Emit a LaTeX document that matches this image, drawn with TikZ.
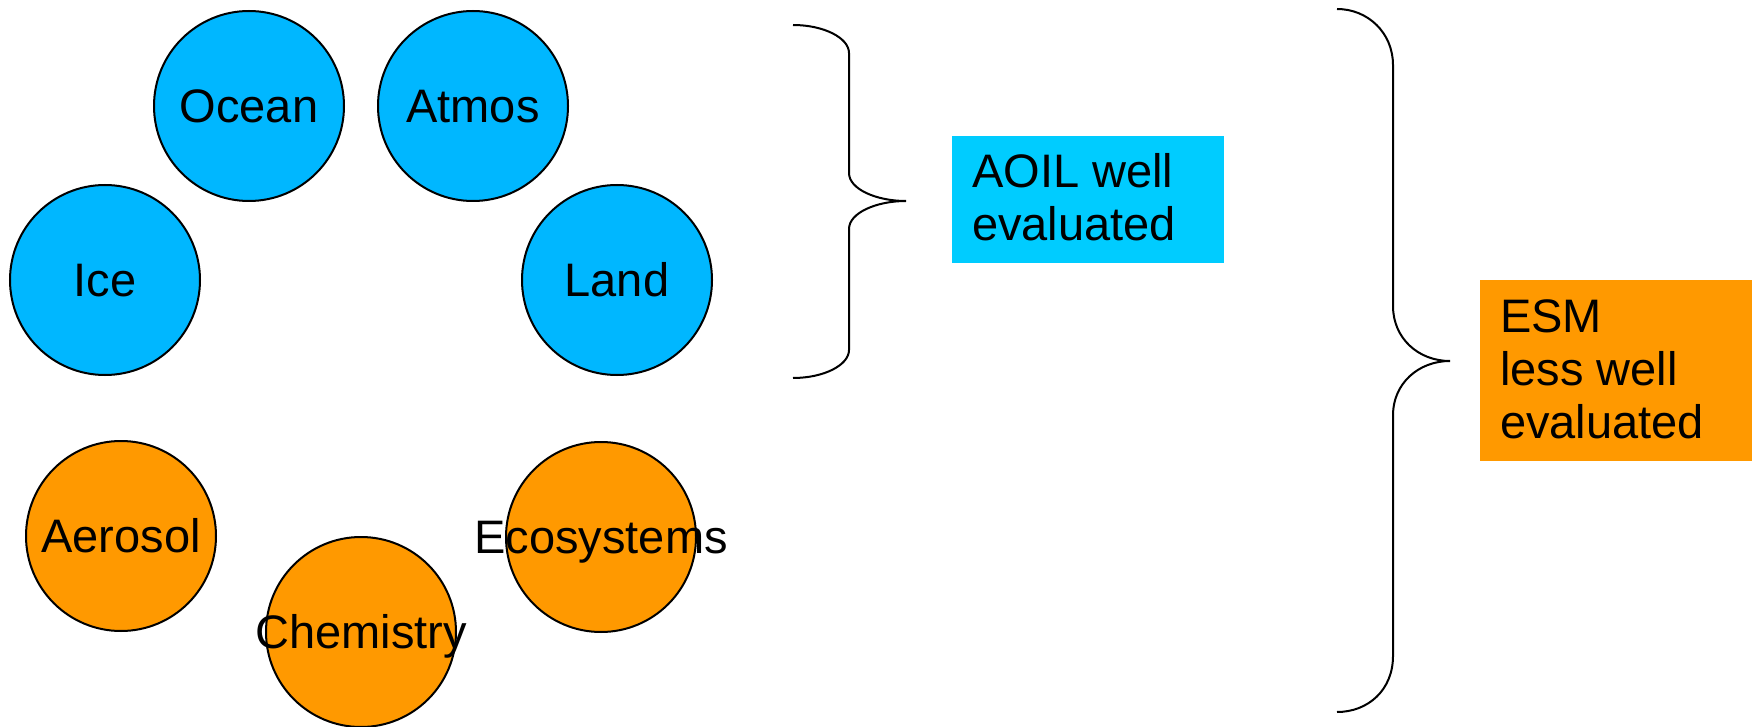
\documentclass[tikz,border=0pt]{standalone}
\usepackage{fontspec}
\setmainfont{Liberation Sans}
\definecolor{bubbleblue}{RGB}{0,183,255}
\definecolor{boxblue}{RGB}{0,204,255}
\definecolor{esmorange}{RGB}{255,153,0}
\begin{document}
\begin{tikzpicture}[x=1pt,y=-1pt,
  font=\fontsize{47}{53}\selectfont,
  bubble/.style={circle, draw=black, line width=2pt, minimum size=190pt, inner sep=0pt},
  blue bubble/.style={bubble, fill=bubbleblue},
  orange bubble/.style={bubble, fill=esmorange},
  lbl/.style={text height=33.6pt, text depth=0pt, inner sep=0pt},
  boxtext/.style={anchor=base west, align=left, inner sep=0pt},
  brace/.style={draw=black, line width=2pt}]
\useasboundingbox (0,0) rectangle (1756,727);
% component bubbles
\node[blue bubble] (ocean) at (249,106) {};
\node[blue bubble] (atmos) at (473,106) {};
\node[blue bubble] (ice) at (105,280) {};
\node[blue bubble] (land) at (617,280) {};
\node[orange bubble] (aerosol) at (121,536) {};
\node[orange bubble] (chem) at (361,632) {};
\node[orange bubble] (eco) at (601,537) {};
\node[lbl] (oceant) at (ocean) {Ocean};
\node[lbl] (atmost) at (atmos) {Atmos};
\node[lbl] (icet) at (ice) {Ice};
\node[lbl] (landt) at (land) {Land};
\node[lbl] (aerosolt) at (aerosol) {Aerosol};
\node[lbl] (chemt) at (chem) {Chemistry};
\node[lbl] (ecot) at (eco) {Ecosystems};
% small brace
\coordinate (sb1) at (793,25);
\coordinate (sb2) at (906,201);
\coordinate (sb3) at (793,378);
\draw[brace] (sb1) .. controls (824,25) and (849,38) .. (849,53)
  -- (849,173) .. controls (849,189) and (876,201) .. (sb2)
  .. controls (876,201) and (849,213) .. (849,229)
  -- (849,350) .. controls (849,365) and (824,378) .. (sb3);
% big brace
\coordinate (bb1) at (1337,9);
\coordinate (bb2) at (1450,361);
\coordinate (bb3) at (1337,712);
\draw[brace] (bb1) .. controls (1368,9) and (1393,33) .. (1393,65)
  -- (1393,306) .. controls (1393,338) and (1418,361) .. (bb2)
  .. controls (1418,361) and (1393,384) .. (1393,415)
  -- (1393,656) .. controls (1393,690) and (1368,712) .. (bb3);
% boxes (text anchored at the baseline of the last line)
\fill[boxblue] (952,136) rectangle (1224,263);
\node[boxtext] (aoil) at (972,241) {AOIL well\\evaluated};
\fill[esmorange] (1480,280) rectangle (1752,461);
\node[boxtext] (esm) at (1500,438) {ESM\\less well\\evaluated};
\end{tikzpicture}
\end{document}
